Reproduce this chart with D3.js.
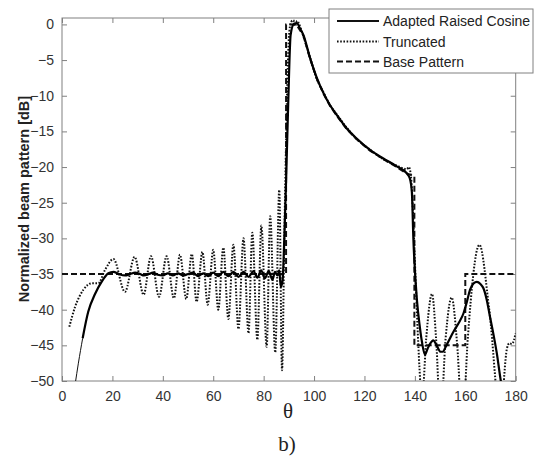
<!DOCTYPE html>
<html>
<head>
<meta charset="utf-8">
<script src="https://cdn.jsdelivr.net/npm/d3@7"></script>
<style>
  html, body { margin: 0; padding: 0; background: #fff; }
  svg { display: block; }
</style>
</head>
<body>
<svg id="chart" width="539" height="461"></svg>
<script>
// ---------------- DATA ----------------
const xTicks = [0, 20, 40, 60, 80, 100, 120, 140, 160, 180];
const yTicks = [-50, -45, -40, -35, -30, -25, -20, -15, -10, -5, 0];
const seriesNames = ["Adapted Raised Cosine", "Truncated", "Base Pattern"];

// Adapted Raised Cosine (solid)
const arcTheta = [5.2, 6.5, 8.2, 10.4, 13.1, 15.7, 18.4, 20.4, 22.5, 25, 27, 29, 31, 32.5, 34.5, 36, 38, 40, 42, 44, 46, 48, 50, 52, 54, 56, 58, 60, 62, 64, 66, 68, 70, 72, 74, 76, 77.5, 79, 80.5, 82, 83.5, 84.5, 85.5, 86.2, 86.8, 87.5, 88.2, 88.9, 89.8, 90.7, 92, 93.1, 94.5, 95.8, 98.4, 101.1, 103.7, 106.3, 109, 113, 116.9, 122.2, 127.5, 132.8, 136.8, 138, 138.8, 139.4, 140.8, 142, 142.8, 144, 145, 146, 147.3, 148.5, 150.2, 151, 152.5, 155.3, 157.5, 159.3, 160.7, 161.9, 163.3, 164.6, 166, 167.2, 168.5, 169.8, 171.2, 172.5, 174.1, 174.6];
const arcDb = [-50.5, -47.5, -44.0, -40.3, -37.8, -36.1, -34.9, -34.7, -35.0, -35.2, -35.0, -34.8, -35.0, -35.2, -35.0, -34.8, -35.1, -35.2, -34.9, -35.2, -34.9, -35.2, -35.0, -34.8, -35.3, -34.9, -35.3, -34.8, -35.3, -34.7, -35.3, -34.7, -35.4, -34.7, -35.4, -34.6, -35.5, -34.5, -35.6, -34.6, -35.8, -34.7, -35.2, -34.5, -36.8, -36.0, -30.0, -22.0, -10.4, -1.5, 0.1, 0.2, -0.6, -1.5, -4.7, -7.5, -9.6, -11.3, -12.7, -14.6, -16.0, -17.6, -18.8, -19.9, -20.9, -21.6, -23.5, -30.0, -38.6, -42.5, -44.5, -46.3, -45.5, -44.8, -44.3, -44.9, -45.9, -45.9, -45.0, -43.1, -41.8, -40.5, -38.8, -37.2, -36.3, -36.1, -36.4, -37.0, -38.6, -41.0, -43.5, -46.1, -50.0, -51.0];

// Truncated (dotted)
const truncTheta = [2.9, 5.2, 8.5, 11.8, 14.4, 17.1, 20.4, 25.0, 28.8, 32.4, 35.3, 38.5, 41.5, 44.4, 46.8, 49.3, 51.5, 53.4, 55.7, 57.8, 60, 62, 64, 66, 68, 70, 72, 74, 75.5, 77.5, 79.1, 81.2, 82.6, 84.6, 86.2, 87.3, 88.2, 88.7, 89.4, 90.2, 91, 91.8, 92.5, 93.3, 94, 95.5, 98.4, 101, 103.7, 106.3, 109, 113, 117, 122, 127.5, 132.8, 136.8, 137.6, 138.5, 139.2, 140.2, 141, 141.8, 142.8, 144.5, 146.8, 148.4, 150.2, 152.2, 154.6, 156.8, 158.9, 161, 165.6, 169.5, 174.3, 175.5, 176.5, 177.5, 178.5, 180];
const truncDb = [-42.4, -39.6, -37.2, -36.3, -36.3, -34.4, -32.9, -37.5, -32.6, -37.9, -32.5, -38.2, -32.5, -38.4, -32.3, -38.5, -32.2, -38.9, -31.9, -39.3, -31.6, -40.0, -31.3, -41.3, -30.9, -42.7, -30.0, -43.3, -29.2, -44.2, -28.2, -45.2, -26.9, -46.0, -23.2, -48.5, -30.0, -20.0, -8.0, -1.0, 0.4, 0.6, -0.2, 0.5, 0.1, -1.4, -4.6, -7.6, -9.5, -11.3, -12.6, -14.5, -16.1, -17.5, -18.9, -19.8, -20.3, -20.0, -21.5, -26.0, -35.0, -42.0, -48.0, -53.0, -44.0, -37.8, -44.0, -55.0, -44.0, -38.3, -45.0, -56.0, -44.0, -30.9, -40.0, -56.0, -49.0, -45.5, -44.7, -44.8, -43.3];

// Base Pattern (dashed)
const baseTheta = [0, 88.9, 88.9, 92, 93.5, 95.8, 98.4, 101.1, 103.7, 106.3, 109, 113, 116.9, 122.2, 127.5, 132.8, 136.8, 139.8, 139.8, 160, 160, 180];
const baseDb = [-35, -35, 0, 0, -0.3, -1.6, -4.8, -7.6, -9.7, -11.4, -12.8, -14.7, -16.1, -17.7, -18.9, -20.0, -20.9, -21.3, -45, -45, -35, -35];

// ---------------- CHART ----------------
const svg = d3.select("#chart");
const L = 62, R = 515.7, T = 18, B = 381;
const x = d3.scaleLinear().domain([0, 180]).range([L, R]);
const y = d3.scaleLinear().domain([-50, 0.9]).range([B, T]);
const axisColor = "#808080";
const textColor = "#333";
const font = "Arial, 'Liberation Sans', sans-serif";

svg.append("defs").append("clipPath").attr("id", "clip")
  .append("rect").attr("x", L).attr("y", T).attr("width", R - L).attr("height", B - T);

// Axes frame
svg.append("rect").attr("x", L).attr("y", T).attr("width", R - L).attr("height", B - T)
  .attr("fill", "none").attr("stroke", axisColor).attr("stroke-width", 1);

const tl = 5;
const xAxisB = d3.axisBottom(x).tickValues(xTicks).tickSizeInner(-tl).tickSizeOuter(0).tickPadding(10);
const gxb = svg.append("g").attr("transform", `translate(0,${B})`).call(xAxisB);
const xAxisT = d3.axisTop(x).tickValues(xTicks).tickSizeInner(-tl).tickSizeOuter(0).tickFormat("");
const gxt = svg.append("g").attr("transform", `translate(0,${T})`).call(xAxisT);
const yAxisL = d3.axisLeft(y).tickValues(yTicks).tickSizeInner(-tl).tickSizeOuter(0).tickPadding(8);
const gyl = svg.append("g").attr("transform", `translate(${L},0)`).call(yAxisL);
const yAxisR = d3.axisRight(y).tickValues(yTicks).tickSizeInner(-tl).tickSizeOuter(0).tickFormat("");
const gyr = svg.append("g").attr("transform", `translate(${R},0)`).call(yAxisR);

[gxb, gxt, gyl, gyr].forEach(g => {
  g.select(".domain").remove();
  g.selectAll(".tick line").attr("stroke", axisColor);
  g.selectAll(".tick text").attr("fill", textColor).attr("font-size", 14).attr("font-family", font);
});

// Data to point arrays
const zip = (a, b) => a.map((t, i) => ({ t: t, v: b[i] }));
const arc = zip(arcTheta, arcDb);
const trunc = zip(truncTheta, truncDb);
const base = zip(baseTheta, baseDb);

const lineMono = d3.line().x(d => x(d.t)).y(d => y(d.v)).curve(d3.curveMonotoneX);
const lineLin = d3.line().x(d => x(d.t)).y(d => y(d.v));

const plot = svg.append("g").attr("clip-path", "url(#clip)");

plot.append("path").datum(base).attr("d", lineLin)
  .attr("fill", "none").attr("stroke", "#111").attr("stroke-width", 2)
  .attr("stroke-dasharray", "6,3");

plot.append("path").datum(trunc).attr("d", lineMono)
  .attr("fill", "none").attr("stroke", "#111").attr("stroke-width", 2)
  .attr("stroke-dasharray", "1.6,1.6");

plot.append("path").datum(arc.filter(d => d.t <= 8.2)).attr("d", lineMono)
  .attr("fill", "none").attr("stroke", "#111").attr("stroke-width", 1);
plot.append("path").datum(arc.filter(d => d.t >= 8.2)).attr("d", lineMono)
  .attr("fill", "none").attr("stroke", "#000").attr("stroke-width", 2.2);

// Axis labels
svg.append("text")
  .attr("transform", `translate(24,199) rotate(-90)`)
  .attr("text-anchor", "middle").attr("dominant-baseline", "central")
  .attr("font-family", font).attr("font-weight", "bold").attr("font-size", 14.5)
  .attr("fill", "#222").text("Normalized beam pattern [dB]");

svg.append("text").attr("x", 288).attr("y", 418).attr("text-anchor", "middle")
  .attr("font-family", "'Liberation Serif', 'Times New Roman', serif").attr("font-size", 21)
  .attr("fill", "#222").text("θ");

svg.append("text").attr("x", 287).attr("y", 451).attr("text-anchor", "middle")
  .attr("font-family", "'Liberation Serif', 'Times New Roman', serif").attr("font-size", 21)
  .attr("fill", "#222").text("b)");

// Legend
const lg = svg.append("g");
lg.append("rect").attr("x", 329).attr("y", 9).attr("width", 204).attr("height", 64)
  .attr("fill", "#fff").attr("stroke", axisColor).attr("stroke-width", 1);
const dashes = [null, "1.6,1.6", "6,3"];
const rowY = [21, 41.5, 61.5];
seriesNames.forEach((name, i) => {
  lg.append("line").attr("x1", 337).attr("x2", 379).attr("y1", rowY[i]).attr("y2", rowY[i])
    .attr("stroke", "#111").attr("stroke-width", 2)
    .attr("stroke-dasharray", dashes[i]);
  lg.append("text").attr("x", 383).attr("y", rowY[i]).attr("dominant-baseline", "central")
    .attr("font-family", font).attr("font-size", 14).attr("fill", "#222").text(name);
});
</script>
</body>
</html>
